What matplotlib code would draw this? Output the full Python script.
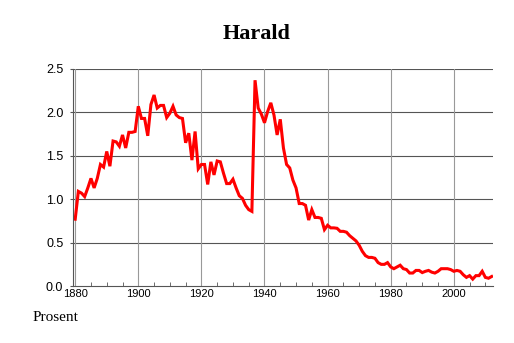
from matplotlib import pyplot as plt
from matplotlib.ticker import MultipleLocator
import numpy as np

# share of newborns named Harald, per year (percent)
years = list(range(1880, 2013))
prosent = [
    0.77, 1.09, 1.07, 1.03, 1.13, 1.24, 1.13, 1.24, 1.40, 1.37,   # 1880-1889
    1.55, 1.38, 1.67, 1.66, 1.61, 1.74, 1.59, 1.77, 1.77, 1.78,   # 1890-1899
    2.07, 1.93, 1.93, 1.73, 2.09, 2.20, 2.05, 2.08, 2.08, 1.94,   # 1900-1909
    1.99, 2.07, 1.97, 1.94, 1.93, 1.65, 1.76, 1.45, 1.78, 1.35,   # 1910-1919
    1.40, 1.40, 1.17, 1.43, 1.28, 1.44, 1.43, 1.30, 1.18, 1.18,   # 1920-1929
    1.23, 1.13, 1.04, 1.01, 0.93, 0.88, 0.86, 2.37, 2.05, 1.98,   # 1930-1939
    1.88, 2.01, 2.11, 1.97, 1.74, 1.92, 1.59, 1.40, 1.36, 1.22,   # 1940-1949
    1.13, 0.95, 0.95, 0.93, 0.76, 0.88, 0.79, 0.79, 0.78, 0.65,   # 1950-1959
    0.70, 0.67, 0.67, 0.665, 0.63, 0.63, 0.62, 0.58, 0.55, 0.52,  # 1960-1969
    0.47, 0.40, 0.35, 0.33, 0.33, 0.32, 0.27, 0.25, 0.25, 0.27,   # 1970-1979
    0.22, 0.20, 0.22, 0.24, 0.20, 0.19, 0.15, 0.15, 0.18, 0.18,   # 1980-1989
    0.155, 0.17, 0.18, 0.16, 0.15, 0.17, 0.20, 0.20, 0.20, 0.19,  # 1990-1999
    0.17, 0.18, 0.17, 0.13, 0.10, 0.12, 0.08, 0.12, 0.12, 0.17,   # 2000-2009
    0.10, 0.09, 0.11,                                             # 2010-2012
]
xticks = [1880, 1900, 1920, 1940, 1960, 1980, 2000]
yticks = [0.0, 0.5, 1.0, 1.5, 2.0, 2.5]

fig = plt.figure(figsize=(5.14, 3.43), dpi=100)
ax = fig.add_axes([0.142, 0.166, 0.817, 0.633])

ax.plot(years, prosent, color='#ff0000', linewidth=2.2, solid_joinstyle='miter')

ax.set_xlim(1879.3, 2012.4)
ax.set_ylim(0, 2.5)
ax.set_xticks(xticks)
ax.set_yticks(yticks)
ax.set_yticklabels(['%.1f' % v for v in yticks])
ax.xaxis.set_minor_locator(MultipleLocator(5))

for y in yticks[1:]:
    ax.axhline(y, color='#555555', linewidth=0.8, zorder=0)
for x in xticks:
    ax.axvline(x, color='#999999', linewidth=0.8, zorder=0)

for side in ['top', 'right']:
    ax.spines[side].set_visible(False)
ax.spines['left'].set_color('#555555')
ax.spines['bottom'].set_color('#555555')
ax.spines['left'].set_linewidth(0.8)
ax.spines['bottom'].set_linewidth(0.8)

ax.tick_params(axis='x', which='major', direction='in', length=0, pad=2,
               labelsize=8, labelfontfamily='Liberation Sans')
ax.tick_params(axis='x', which='minor', direction='in', length=3, color='#555555')
ax.tick_params(axis='y', direction='out', length=2, pad=5, color='#555555',
               labelsize=9, labelfontfamily='Liberation Sans')

fig.text(0.5, 0.902, 'Harald', ha='center', va='center',
         fontsize=16, fontweight='bold', family='Liberation Serif')
fig.text(0.064, 0.073, 'Prosent', ha='left', va='center',
         fontsize=11, family='Liberation Serif')

plt.savefig('out.png', dpi=100)
